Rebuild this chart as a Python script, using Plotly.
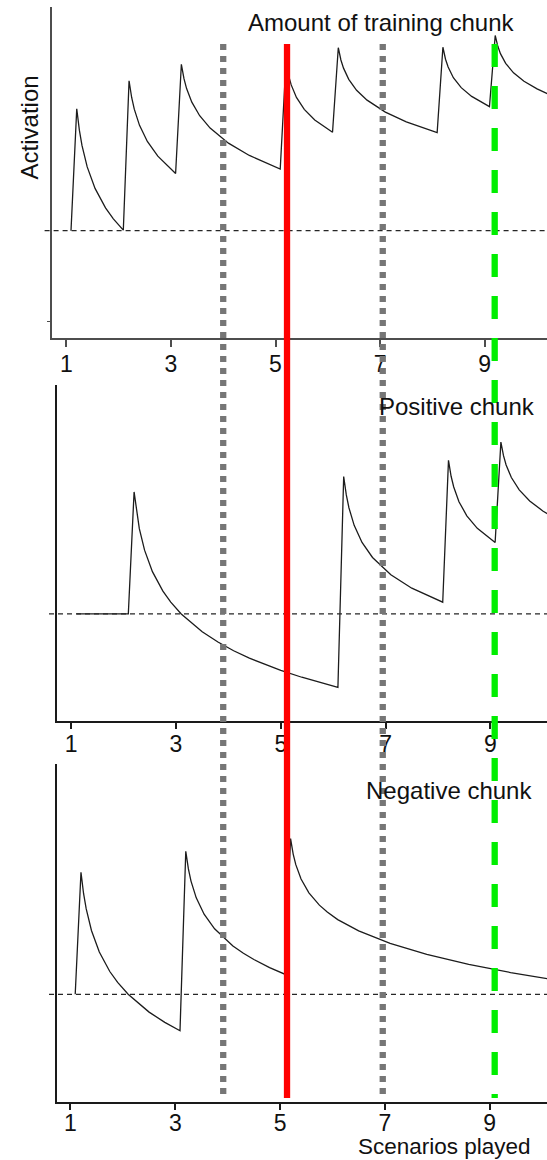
import plotly.graph_objects as go

# Base-level activation of three chunks over the scenarios played
train_x = [1.09, 1.2, 1.25, 1.3, 1.4, 1.55, 1.75, 1.9, 2.09,
           2.2, 2.25, 2.3, 2.4, 2.55, 2.75, 3.09,
           3.2, 3.25, 3.3, 3.4, 3.55, 3.75, 4.1, 4.5, 5.09,
           5.2, 5.25, 5.3, 5.4, 5.55, 5.75, 6.09,
           6.2, 6.25, 6.3, 6.4, 6.55, 6.75, 7.1, 7.5, 8.09,
           8.2, 8.25, 8.3, 8.4, 8.55, 8.75, 9.09,
           9.2, 9.25, 9.3, 9.4, 9.55, 9.75, 10.0, 10.2]
train_act = [0.0, 1.151, 0.949, 0.805, 0.602, 0.399, 0.215, 0.112, 0.005,
             1.415, 1.257, 1.147, 0.994, 0.842, 0.703, 0.539,
             1.570, 1.434, 1.341, 1.213, 1.085, 0.968, 0.826, 0.710, 0.581,
             1.592, 1.463, 1.376, 1.258, 1.145, 1.044, 0.929,
             1.727, 1.611, 1.534, 1.428, 1.325, 1.232, 1.119, 1.027, 0.925,
             1.731, 1.618, 1.544, 1.444, 1.350, 1.267, 1.171,
             1.842, 1.740, 1.671, 1.579, 1.490, 1.410, 1.338, 1.292]

pos_x = [1.1, 2.09, 2.2, 2.25, 2.3, 2.4, 2.55, 2.75, 2.9, 3.1, 3.5, 3.8,
         4.1, 4.4, 4.7, 5.0, 5.4, 5.7, 6.09,
         6.2, 6.25, 6.3, 6.4, 6.55, 6.75, 7.1, 7.5, 8.09,
         8.2, 8.25, 8.3, 8.4, 8.55, 8.75, 9.09,
         9.2, 9.25, 9.3, 9.4, 9.55, 9.75, 10.0, 10.2]
pos_act = [0.0, 0.0, 1.151, 0.949, 0.805, 0.602, 0.399, 0.215, 0.112, 0.0, -0.168, -0.265,
           -0.347, -0.417, -0.478, -0.532, -0.597, -0.641, -0.692,
           1.296, 1.123, 1.002, 0.836, 0.675, 0.533, 0.370, 0.243, 0.111,
           1.449, 1.299, 1.198, 1.059, 0.926, 0.808, 0.674,
           1.621, 1.493, 1.406, 1.287, 1.171, 1.066, 0.972, 0.912]

neg_x = [1.09, 1.2, 1.25, 1.3, 1.4, 1.55, 1.75, 1.9, 2.1, 2.5, 2.8, 3.09,
         3.2, 3.25, 3.3, 3.4, 3.55, 3.75, 4.1, 4.3, 4.5, 4.8, 5.09,
         5.2, 5.25, 5.3, 5.4, 5.55, 5.75, 5.9, 6.1, 6.5, 7.1, 7.8, 8.6, 9.4, 10.2]
neg_act = [0.0, 1.151, 0.949, 0.805, 0.602, 0.399, 0.215, 0.112, 0.0, -0.168, -0.265, -0.344,
           1.349, 1.183, 1.068, 0.910, 0.756, 0.618, 0.456, 0.387, 0.328, 0.252, 0.190,
           1.469, 1.323, 1.223, 1.088, 0.957, 0.841, 0.776, 0.705, 0.598, 0.480, 0.376,
           0.282, 0.205, 0.139]

tick_vals = [1, 3, 5, 7, 9]
tick_text = ["1", "3", "5", "7", "9"]

panel_titles = ["Amount of training chunk", "Positive chunk", "Negative chunk"]

# Event markers drawn across all panels (scenario positions)
marker_x = [4.0, 5.22, 7.05, 9.19]
marker_color = ["#767676", "#ff0000", "#767676", "#00ee00"]
marker_dash = ["6px,6px", "solid", "6px,6px", "23px,19px"]

FONT = "Liberation Sans, Arial, Helvetica, sans-serif"
W, H = 547, 1160

fig = go.Figure()
curve = dict(color="#1c1c1c", width=1.3)
fig.add_trace(go.Scatter(x=train_x, y=train_act, mode="lines", line=curve,
                         xaxis="x", yaxis="y", showlegend=False))
fig.add_trace(go.Scatter(x=pos_x, y=pos_act, mode="lines", line=curve,
                         xaxis="x2", yaxis="y2", showlegend=False))
fig.add_trace(go.Scatter(x=neg_x, y=neg_act, mode="lines", line=curve,
                         xaxis="x3", yaxis="y3", showlegend=False))


def xax(domain, rng, anchor, color, width, standoff):
    return dict(domain=domain, range=rng, anchor=anchor, tickvals=tick_vals,
                ticktext=tick_text, ticks="outside", ticklen=7, tickwidth=1.5,
                tickcolor=color, showline=True, linecolor=color, linewidth=width,
                showgrid=False, zeroline=False, ticklabelstandoff=standoff,
                tickfont=dict(family=FONT, size=23, color="#111"))


def yax(domain, rng, anchor, color, width, tv):
    return dict(domain=domain, range=rng, anchor=anchor, showline=True,
                linecolor=color, linewidth=width, showgrid=False, zeroline=False,
                tickvals=tv, ticks="outside" if tv else "", ticklen=3,
                tickcolor=color, showticklabels=False)


fig.update_layout(
    width=W, height=H,
    margin=dict(l=0, r=0, t=0, b=0),
    paper_bgcolor="white", plot_bgcolor="white",
    font=dict(family=FONT, size=24, color="#111"),
    xaxis=xax([0.0943, 1], [0.719, 10.19], "y", "#4d4d4d", 2, -3),
    yaxis=yax([0.7084, 0.9937], [-1.015, 2.108], "x", "#4d4d4d", 2, [-0.86]),
    xaxis2=xax([0.1033, 1], [0.7195, 10.08], "y2", "#1a1a1a", 1.5, -5),
    yaxis2=yax([0.3787, 0.6681], [-1.007, 2.160], "x2", "#1a1a1a", 1.5, []),
    xaxis3=xax([0.1033, 1], [0.733, 10.094], "y3", "#1a1a1a", 1.5, -7),
    yaxis3=yax([0.0503, 0.3411], [-1.013, 2.170], "x3", "#1a1a1a", 1.5, []),
)

shapes = []
# dashed zero-activation reference in each panel
for xr, yr, x0 in [("x domain", "y", -0.0141), ("x2 domain", "y2", -0.0153),
                   ("x3 domain", "y3", -0.0153)]:
    shapes.append(dict(type="line", xref=xr, yref=yr, x0=x0, x1=1, y0=0, y1=0,
                       line=dict(color="#262626", width=1.2, dash="5px,4px"),
                       layer="above"))
for mx, mc, md in zip(marker_x, marker_color, marker_dash):
    shapes.append(dict(type="line", xref="x", yref="paper", x0=mx, x1=mx,
                       y0=1 - 44 / H, y1=1 - 1098 / H,
                       line=dict(color=mc, width=6.3, dash=md), layer="above"))
fig.update_layout(shapes=shapes)

ann = [
    (panel_titles[0], 380.7 / W, 1 - 22.3 / H, 24),
    (panel_titles[1], 457.0 / W, 1 - 406.7 / H, 24),
    (panel_titles[2], 449.2 / W, 1 - 790.0 / H, 24),
    ("Scenarios played", 444.0 / W, 1 - 1146.5 / H, 22.5),
]
for txt, ax_, ay_, fs in ann:
    fig.add_annotation(text=txt, x=ax_, y=ay_, xref="paper", yref="paper",
                       xanchor="center", yanchor="middle", showarrow=False,
                       font=dict(family=FONT, size=fs, color="#111"))
fig.add_annotation(text="Activation", x=29.7 / W, y=1 - 127.7 / H, xref="paper",
                   yref="paper", xanchor="center", yanchor="middle",
                   showarrow=False, textangle=-90,
                   font=dict(family=FONT, size=24, color="#111"))

fig.write_html("out.html")
